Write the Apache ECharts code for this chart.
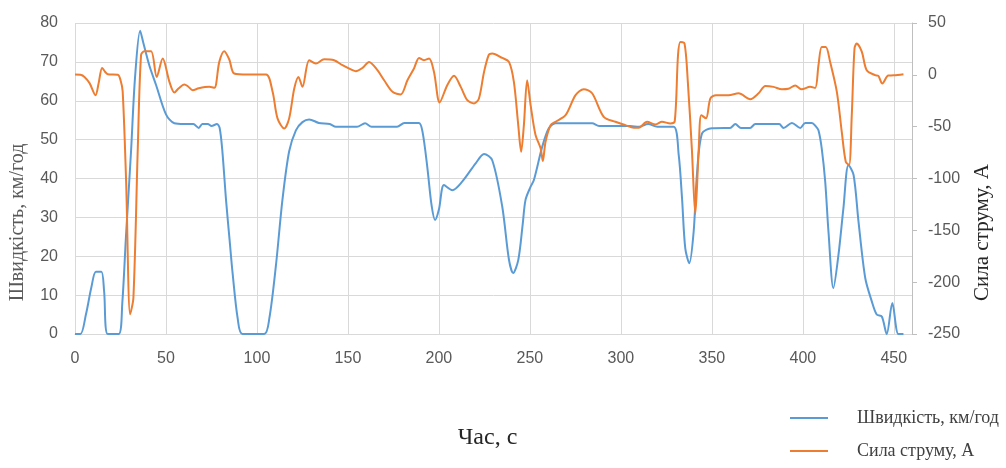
<!DOCTYPE html>
<html>
<head>
<meta charset="utf-8">
<script src="https://cdn.jsdelivr.net/npm/echarts@6/dist/echarts.min.js"></script>
<style>
  html, body { margin: 0; padding: 0; background: #ffffff; }
  #chart { width: 1006px; height: 468px; }
</style>
</head>
<body>
<div id="chart"></div>
<script>
// Speed (km/h) against time (s)
const speedTime = [0, 3, 6, 9, 11.5, 14.5, 16, 18, 24, 26, 28, 30.8, 33, 35.8, 37.5, 40.9, 44.6, 50, 54.6, 60, 65, 68, 70, 73, 75, 78, 79.5, 81, 83, 85, 86.6, 89.4, 92, 104, 106.8, 110.4, 114, 117.7, 121.4, 125, 128.7, 134, 140, 143.4, 150, 155, 159.4, 163, 170, 177, 181, 189, 191, 193.6, 196, 197.9, 200, 202.8, 207.4, 212.8, 220.2, 224.8, 229.3, 234.8, 238.5, 240.8, 243.6, 246, 247.6, 250.4, 252.2, 256.8, 260.4, 264.1, 270, 284.2, 288, 300, 305, 310, 315, 320, 329, 331.8, 333.6, 335.4, 337.6, 340, 341.8, 344.6, 350, 357, 360, 362.9, 366, 371, 373.9, 381, 387, 389.4, 394, 398.6, 401.3, 405, 407, 408.6, 410.4, 412.3, 414.1, 416.8, 419.6, 422.3, 425.1, 427.9, 430.6, 434.3, 437.9, 440.6, 443.4, 446.1, 449.2, 452.5, 455.3];
const speed = [0, 0, 5, 12, 16, 16, 11, 0, 0, 8, 25, 47, 66, 78, 75, 69, 64, 56.5, 54.2, 54, 54, 53, 54, 54, 53.5, 54, 53, 47, 34.5, 24, 15.7, 4, 0, 0, 4, 17.5, 34.5, 47, 52.4, 54.5, 55.2, 54.3, 54, 53.3, 53.3, 53.3, 54.2, 53.3, 53.3, 53.3, 54.3, 54.3, 52, 43, 33, 29.3, 32, 38.3, 37, 39.2, 43.9, 46.3, 44.7, 32.8, 19.1, 15.7, 19, 28, 34.5, 37.9, 39.6, 48.2, 52.9, 54.2, 54.2, 54.2, 53.5, 53.5, 53.5, 53.3, 54, 53.3, 53.3, 46, 35, 22, 18.2, 26.3, 41, 51.6, 52.9, 53, 53, 54, 53, 53, 54, 54, 54, 53, 54.3, 53, 54.3, 54.3, 53.5, 52.4, 47.7, 39.2, 26.3, 11.8, 20.4, 32.3, 43.5, 40.9, 28.9, 14.4, 8.4, 5, 4.5, 0, 8, 0, 0];

// Current (A) against time (s)
const currentTime = [0, 3, 5.2, 8, 11.3, 13, 14.9, 16.5, 18, 23.5, 25, 26.2, 28.1, 30.3, 32.1, 34.5, 36.3, 38.1, 41.8, 44.9, 48.2, 51.9, 54.6, 57, 60.1, 62, 64.7, 68, 73.8, 76.6, 79.3, 82, 84.8, 87.5, 95, 105, 108.6, 111.3, 115, 117.7, 120.5, 122.8, 125, 128.7, 132.4, 136.9, 142.4, 147, 152.5, 154.3, 158, 161.6, 166.2, 169.9, 174.5, 179, 182.7, 186.3, 189.1, 191.8, 194.6, 197.3, 200.4, 204.6, 208.3, 212, 215.6, 219.3, 222, 224.8, 227.5, 229.3, 234.8, 238.5, 241.2, 243.6, 245.2, 246.7, 248.5, 250.4, 253.1, 255.9, 257.1, 258.6, 261.4, 264.1, 269.6, 275.1, 279.6, 284.2, 290.6, 297, 302.5, 307.1, 309.8, 314.4, 319, 322.6, 327.2, 329.6, 331.4, 332.7, 335, 336.8, 339, 340.9, 342.8, 344.2, 346.8, 349.2, 352.3, 359.2, 364.7, 371.1, 375.7, 379.4, 383.9, 388.5, 392, 395.8, 399.4, 404, 406.8, 408.6, 410.4, 412.6, 415, 418.7, 421.4, 423.6, 425.4, 426.9, 428.4, 429.6, 432.4, 435.1, 439.7, 441.5, 443.7, 447, 450, 455.3];
const current = [0.3, 0, -2, -8, -19.6, -8, 6.7, 3, 0.5, 0, -5, -16, -103, -231, -215, -71, 19, 22.8, 22.8, -2, 15.7, -6.8, -17, -13, -9.3, -11, -14.8, -13, -11.6, -12.5, 12.5, 22.8, 14.8, 1.3, 0.3, 0.3, -16.4, -42, -51.7, -42, -13.2, -2, -11.6, 14.1, 10.9, 15, 14.1, 9.3, 4.5, 3.5, 6.7, 12.5, 4.5, -5.2, -16.4, -19, -5.2, 6.1, 16.3, 14.1, 15.7, 2.8, -26.6, -10, -1, -11.6, -24.4, -27.6, -22.8, 2.8, 19.6, 20.6, 16.3, 12.5, -6.8, -48.5, -74.2, -48.5, -5.2, -29.2, -58.1, -70.9, -83.1, -64.6, -48.5, -45.3, -38.9, -19.6, -13.8, -17.8, -40.5, -45.3, -48.5, -51.1, -51.1, -45.3, -47.9, -45.3, -46.9, -45, 18.9, 31.7, 30.1, -6.8, -70.9, -134.5, -70.9, -38.9, -42, -22.8, -19.6, -19.6, -17.8, -23.5, -17.8, -10.7, -11.6, -14, -13.5, -10.3, -14, -11.6, -12.6, 9.3, 26.9, 26.9, 12.5, -16.4, -55, -83.8, -87, -38.9, 25.4, 30.2, 22.4, 4.5, -0.3, -1, -8.3, -0.6, -0.5, 0.6];

const seriesNames = ['Швидкість, км/год', 'Сила струму, А'];
const xTitle = 'Час, с';

const pairs = (xs, ys) => xs.map((x, i) => [x, ys[i]]);

const tickFont = { color: '#595959', fontFamily: 'Liberation Sans', fontSize: 16 };
const serif = 'Liberation Serif';
const lineIcon = 'path://M0,6 L38,6 L38,8 L0,8 Z';

const chart = echarts.init(document.getElementById('chart'), null, { renderer: 'canvas' });
chart.setOption({
  animation: false,
  backgroundColor: '#ffffff',
  grid: { left: 75, right: 94, top: 23, bottom: 134 },
  legend: {
    orient: 'vertical',
    left: 790,
    top: 408,
    padding: 0,
    itemWidth: 38,
    itemHeight: 14,
    itemGap: 13,
    data: [
      { name: seriesNames[0], icon: lineIcon },
      { name: seriesNames[1], icon: lineIcon }
    ],
    textStyle: { fontFamily: serif, fontSize: 18, lineHeight: 20, color: '#404040', padding: [0, 0, 0, 24] }
  },
  xAxis: {
    type: 'value',
    min: 0,
    max: 460,
    interval: 50,
    name: xTitle,
    nameLocation: 'middle',
    nameGap: 92,
    nameTextStyle: { fontFamily: serif, fontSize: 24, color: '#262626', padding: [0, 12, 0, 0] },
    axisLine: { show: true, lineStyle: { color: '#d9d9d9', width: 1 } },
    axisTick: { show: false },
    axisLabel: Object.assign({ margin: 17, showMaxLabel: false }, tickFont),
    splitLine: { show: true, lineStyle: { color: '#d9d9d9', width: 1 } }
  },
  yAxis: [
    {
      type: 'value',
      min: 0,
      max: 80,
      interval: 10,
      name: seriesNames[0],
      nameLocation: 'middle',
      nameRotate: 90,
      nameGap: 47,
      nameTextStyle: { fontFamily: serif, fontSize: 20, color: '#595959', padding: [0, 88, 0, 0] },
      axisLine: { show: false },
      axisTick: { show: false },
      axisLabel: Object.assign({ margin: 17 }, tickFont),
      splitLine: { show: true, lineStyle: { color: '#d9d9d9', width: 1 } }
    },
    {
      type: 'value',
      min: -250,
      max: 50,
      interval: 50,
      position: 'right',
      name: seriesNames[1],
      nameLocation: 'middle',
      nameRotate: 90,
      nameGap: 60,
      nameTextStyle: { fontFamily: serif, fontSize: 21, color: '#262626', padding: [0, 108, 0, 0] },
      axisLine: { show: true, lineStyle: { color: '#bfbfbf', width: 1 } },
      axisTick: { show: true, inside: false, length: 5, lineStyle: { color: '#bfbfbf' } },
      axisLabel: Object.assign({ margin: 16 }, tickFont),
      splitLine: { show: false }
    }
  ],
  series: [
    {
      name: seriesNames[0],
      type: 'line',
      yAxisIndex: 0,
      data: pairs(speedTime, speed),
      smooth: 0.3,
      showSymbol: false,
      color: '#5b9bd5',
      lineStyle: { color: '#5b9bd5', width: 2 },
      z: 2
    },
    {
      name: seriesNames[1],
      type: 'line',
      yAxisIndex: 1,
      data: pairs(currentTime, current),
      smooth: 0.3,
      showSymbol: false,
      color: '#ed7d31',
      lineStyle: { color: '#ed7d31', width: 2 },
      z: 3
    }
  ]
});
</script>
</body>
</html>
